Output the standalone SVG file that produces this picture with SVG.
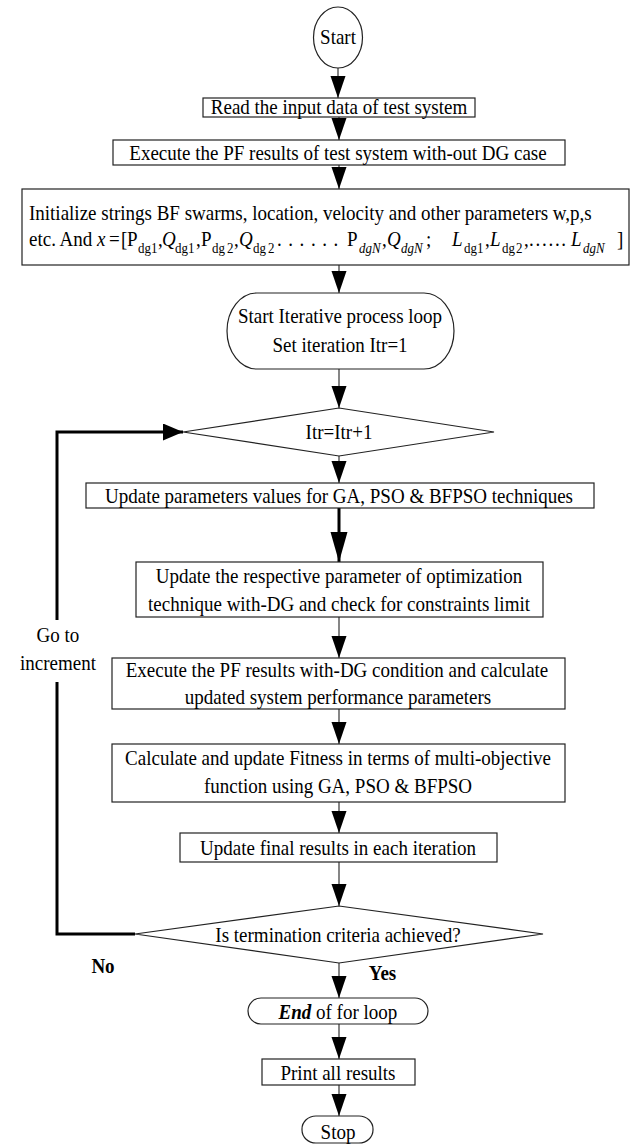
<svg xmlns="http://www.w3.org/2000/svg" width="635" height="1144" viewBox="0 0 635 1144">
<style>
text{font-family:"Liberation Serif","Times New Roman",serif;font-size:22px;fill:#000}
.m{text-anchor:middle}
.t{transform-box:fill-box;transform-origin:center;transform:scaleX(0.864)}
.b{fill:#fff;stroke:#222;stroke-width:1.2}
.c{fill:none;stroke:#222;stroke-width:1.1}
.thick{fill:none;stroke:#000;stroke-width:3}
.i{font-style:italic}
.s{font-size:15px}
.bd{font-weight:bold}
</style>
<defs>
<marker id="ah" markerUnits="userSpaceOnUse" markerWidth="22" markerHeight="16" refX="22" refY="7.5" orient="auto"><path d="M0,0 L22,7.5 L0,15 z" fill="#000"/></marker>
<marker id="ahb" markerUnits="userSpaceOnUse" markerWidth="30" markerHeight="18" refX="30" refY="8.5" orient="auto"><path d="M0,0 L30,8.5 L0,17 z" fill="#000"/></marker>
<marker id="ahl" markerUnits="userSpaceOnUse" markerWidth="20" markerHeight="18" refX="20" refY="8.5" orient="auto"><path d="M0,0 L20,8.5 L0,17 z" fill="#000"/></marker>
</defs>
<g id="connectors">
<line class="c" x1="338" y1="68" x2="338" y2="98" marker-end="url(#ah)"/>
<line class="c" x1="339" y1="117" x2="339" y2="140" marker-end="url(#ah)"/>
<line class="c" x1="339" y1="165" x2="339" y2="189" marker-end="url(#ah)"/>
<line class="c" x1="339" y1="265" x2="339" y2="293" marker-end="url(#ah)"/>
<line class="c" x1="339" y1="369" x2="339" y2="408" marker-end="url(#ah)"/>
<line class="c" x1="339" y1="456" x2="339" y2="483" marker-end="url(#ah)"/>
<line class="thick" x1="339" y1="508" x2="339" y2="562" marker-end="url(#ahb)"/>
<line class="c" x1="339" y1="617" x2="339" y2="658" marker-end="url(#ah)"/>
<line class="c" x1="339" y1="709" x2="339" y2="744" marker-end="url(#ah)"/>
<line class="c" x1="339" y1="802" x2="339" y2="833" marker-end="url(#ah)"/>
<line class="c" x1="339" y1="862" x2="339" y2="906" marker-end="url(#ah)"/>
<line class="c" x1="339" y1="963" x2="339" y2="998" marker-end="url(#ah)"/>
<line class="c" x1="339" y1="1024" x2="339" y2="1059" marker-end="url(#ah)"/>
<line class="c" x1="339" y1="1085" x2="339" y2="1116" marker-end="url(#ah)"/>
<polyline class="thick" points="135,934 57,934 57,682"/>
<polyline class="thick" points="57,620 57,432 183,432" marker-end="url(#ahl)"/>
<text class="m t" x="58" y="642">Go to</text>
<text class="m t" x="58" y="670">increment</text>
<text class="m t bd" x="103" y="973">No</text>
<text class="m t bd" x="382.5" y="980">Yes</text>
</g>
<g id="start">
<ellipse class="b" cx="338" cy="37.5" rx="24.5" ry="30.5"/>
<text class="m t" x="338" y="44">Start</text>
</g>
<g id="read">
<rect class="b" x="203" y="98" width="272" height="19"/>
<text class="m t" x="339" y="114">Read the input data of test system</text>
</g>
<g id="execute">
<rect class="b" x="113" y="140" width="452" height="25"/>
<text class="m t" x="338" y="160">Execute the PF results of test system with-out DG case</text>
</g>
<g id="initialize">
<rect class="b" x="22" y="189" width="607" height="76"/>
<text transform="matrix(0.864 0 0 1 3.94 0)" x="29" y="220">Initialize strings BF swarms, location, velocity and other parameters w,p,s</text>
<text transform="matrix(0.864 0 0 1 3.94 0)" y="246"><tspan x="29">etc. And</tspan><tspan class="i" x="107.7">x</tspan><tspan x="121.6">=</tspan><tspan x="135.5">[</tspan><tspan x="142.4">P</tspan><tspan class="s" x="155.2" y="253">dg1</tspan><tspan x="178.3" y="246">,</tspan><tspan class="i" x="182.9">Q</tspan><tspan class="s" x="198.0" y="253">dg1</tspan><tspan x="222.3" y="246">,</tspan><tspan x="228.1">P</tspan><tspan class="s" x="240.8" y="253">dg</tspan><tspan class="s" x="258.2">2</tspan><tspan x="266.3" y="246">,</tspan><tspan class="i" x="272.1">Q</tspan><tspan class="s" x="288.3" y="253">dg</tspan><tspan class="s" x="305.6">2</tspan><tspan x="316.0" y="246" letter-spacing="7.6">......</tspan><tspan x="397.1">P</tspan><tspan class="s i" x="410.9" y="253">dgN</tspan><tspan x="437.6" y="246">,</tspan><tspan class="i" x="443.4">Q</tspan><tspan class="s i" x="459.6" y="253">dgN</tspan><tspan x="488.5" y="246">;</tspan><tspan class="i" x="518.6">L</tspan><tspan class="s" x="532.5" y="253">dg1</tspan><tspan x="556.8" y="246">,</tspan><tspan class="i" x="562.6">L</tspan><tspan class="s" x="576.5" y="253">dg</tspan><tspan class="s" x="592.7">2</tspan><tspan x="601.9" y="246">,</tspan><tspan x="607.7" letter-spacing="2">......</tspan><tspan class="i" x="656.3">L</tspan><tspan class="s i" x="670.2" y="253">dgN</tspan><tspan x="709.6" y="246">]</tspan></text>
</g>
<g id="loop-start">
<rect class="b" x="227" y="293" width="227" height="76" rx="30" ry="38"/>
<text class="m t" x="340" y="323">Start Iterative process loop</text>
<text class="m t" x="340" y="352">Set iteration Itr=1</text>
</g>
<g id="increment">
<polygon class="b" points="339,408 494,432 339,456 183,432"/>
<text class="m t" x="339" y="439">Itr=Itr+1</text>
</g>
<g id="update-params">
<rect class="b" x="86" y="483" width="508" height="25"/>
<text class="m t" x="339" y="503">Update parameters values for GA, PSO &amp; BFPSO techniques</text>
</g>
<g id="update-respective">
<rect class="b" x="136" y="562" width="407" height="55"/>
<text class="m t" x="339" y="583">Update the respective parameter of optimization</text>
<text class="m t" x="339" y="611">technique with-DG and check for constraints limit</text>
</g>
<g id="execute-dg">
<rect class="b" x="112" y="658" width="453" height="51"/>
<text class="m t" x="337" y="677">Execute the PF results with-DG condition and calculate</text>
<text class="m t" x="338" y="704">updated system performance parameters</text>
</g>
<g id="fitness">
<rect class="b" x="112" y="744" width="453" height="58"/>
<text class="m t" x="338" y="765">Calculate and update Fitness in terms of multi-objective</text>
<text class="m t" x="338" y="793">function using  GA, PSO &amp; BFPSO</text>
</g>
<g id="update-final">
<rect class="b" x="180" y="833" width="317" height="29"/>
<text class="m t" x="338" y="855">Update final results in each iteration</text>
</g>
<g id="termination">
<polygon class="b" points="339,906 543,934 339,963 135,934"/>
<text class="m t" x="338" y="942">Is termination criteria achieved?</text>
</g>
<g id="end-loop">
<rect class="b" x="248" y="998" width="180" height="26" rx="13" ry="13"/>
<text class="m t" x="338" y="1019"><tspan class="bd i">End</tspan> of for loop</text>
</g>
<g id="print">
<rect class="b" x="262" y="1059" width="153" height="26"/>
<text class="m t" x="338" y="1080">Print all results</text>
</g>
<g id="stop">
<rect class="b" x="302" y="1116" width="71" height="27" rx="14" ry="13"/>
<text class="m t" x="338" y="1139">Stop</text>
</g>
</svg>
